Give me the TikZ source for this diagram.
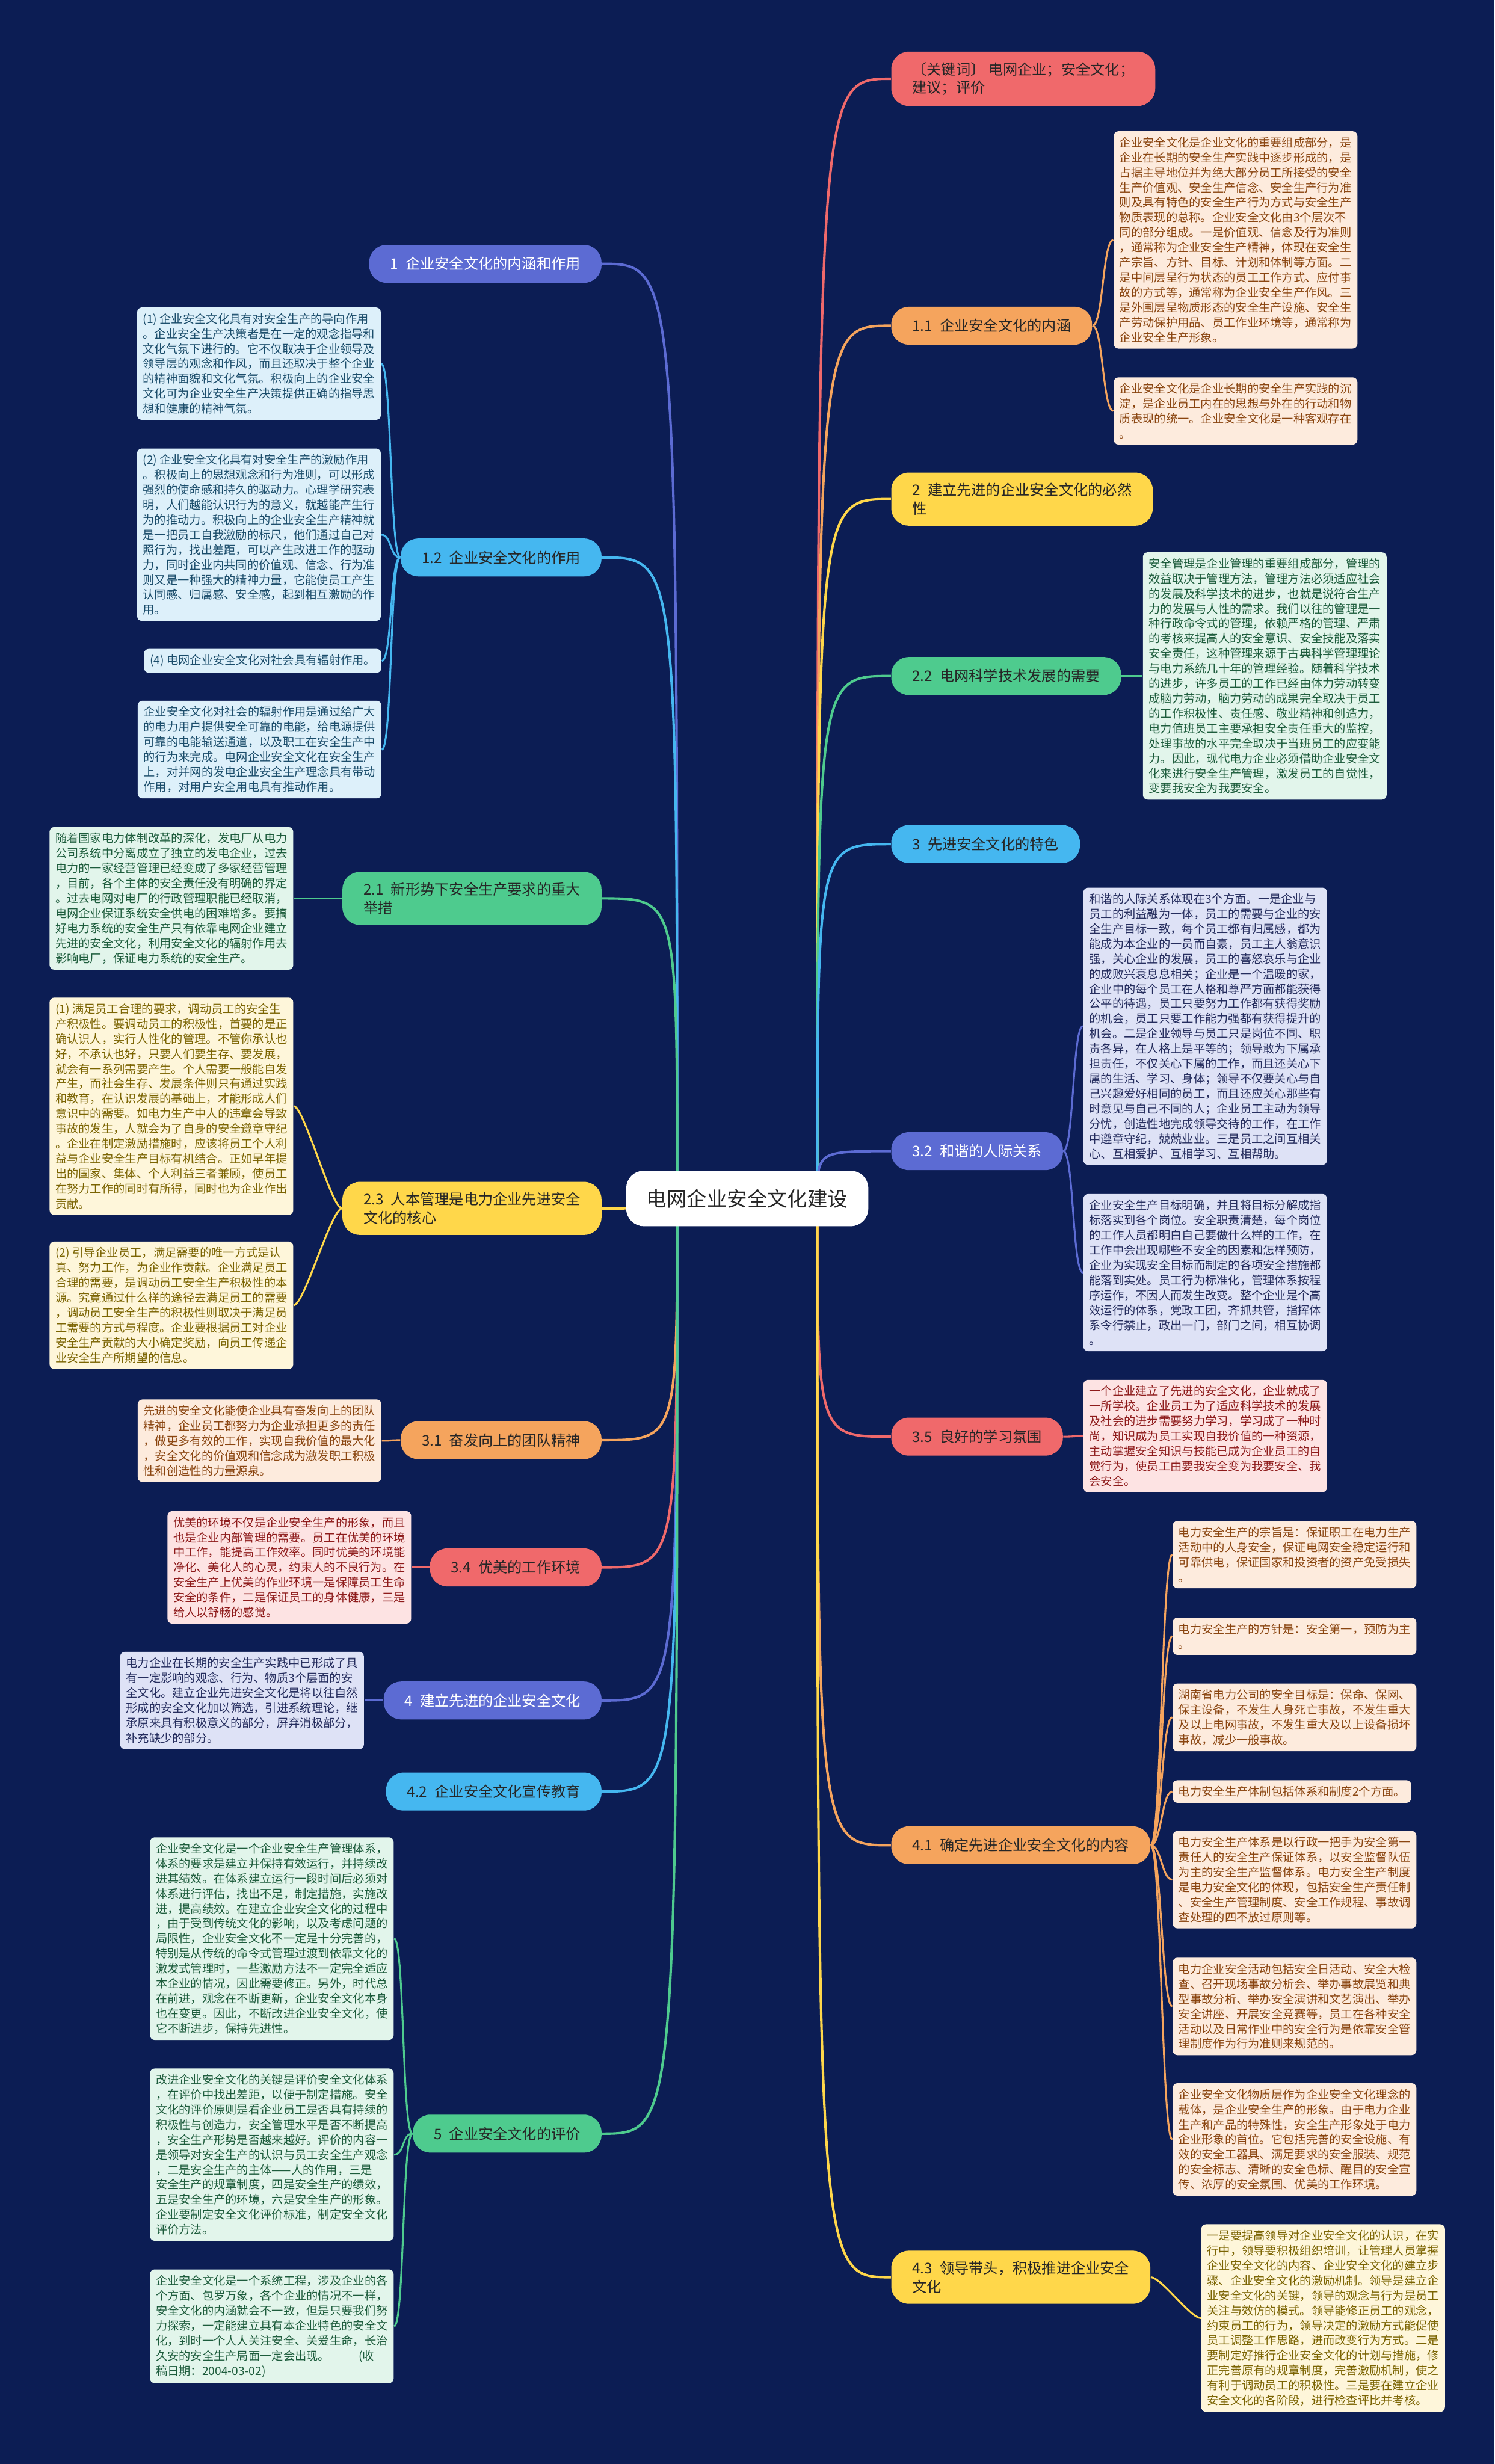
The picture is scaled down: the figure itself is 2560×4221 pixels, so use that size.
\documentclass[tikz,border=0pt]{standalone}
\usepackage{fontspec}
\newfontfamily\cjk{Noto Sans CJK SC}
\newcommand\txtsz{\fontsize{5.65pt}{7.3pt}\selectfont}
\newcommand\brsz{\fontsize{7.1pt}{9pt}\selectfont}
\newcommand\rtsz{\fontsize{9.8pt}{12pt}\selectfont}
\definecolor{bgc}{RGB}{12,29,84}
\definecolor{reM}{RGB}{240,105,107}\definecolor{reL}{RGB}{253,227,227}\definecolor{reT}{RGB}{142,27,27}
\definecolor{orM}{RGB}{245,164,93}\definecolor{orL}{RGB}{253,235,221}\definecolor{orT}{RGB}{138,69,16}
\definecolor{yeM}{RGB}{255,215,74}\definecolor{yeL}{RGB}{254,246,218}\definecolor{yeT}{RGB}{123,100,2}
\definecolor{grM}{RGB}{78,203,142}\definecolor{grL}{RGB}{226,245,235}\definecolor{grT}{RGB}{29,92,60}
\definecolor{skM}{RGB}{69,183,240}\definecolor{skL}{RGB}{221,240,250}\definecolor{skT}{RGB}{27,77,107}
\definecolor{puM}{RGB}{92,107,211}\definecolor{puL}{RGB}{222,226,246}\definecolor{puT}{RGB}{37,45,94}
\pgfdeclarelayer{bg}
\pgfsetlayers{bg,main}

\begin{document}
\begin{tikzpicture}[x=0.01cm,y=-0.01cm,
    bx/.style={font=\cjk\txtsz,align=left,inner xsep=0.1cm,inner ysep=0.1cm,rounded corners=2.3pt},
    br/.style={font=\cjk\brsz,align=left,inner xsep=0.36cm,inner ysep=0.18cm,minimum height=0.65cm,rounded corners=0.3cm,text=black!85},
    rebox/.style={bx,fill=reL,text=reT},orbox/.style={bx,fill=orL,text=orT},
    yebox/.style={bx,fill=yeL,text=yeT},grbox/.style={bx,fill=grL,text=grT},
    skbox/.style={bx,fill=skL,text=skT},pubox/.style={bx,fill=puL,text=puT},
    rebr/.style={br,fill=reM},orbr/.style={br,fill=orM},yebr/.style={br,fill=yeM},
    grbr/.style={br,fill=grM},skbr/.style={br,fill=skM},pubr/.style={br,fill=puM,text=white},
    lk/.style={line width=1.2pt,#1},sub/.style={line width=0.9pt,#1}]
    \useasboundingbox(0,0)rectangle(2560,4221);
    % root
    \node[font=\cjk\rtsz,fill=white,text=black!85,rounded corners=0.3cm,inner xsep=0.35cm,minimum height=0.95cm](root)at(1280,2053){电网企业安全文化建设};
    \coordinate(rs)at(1400,2053);
    \coordinate(ls)at(1160,2053);
    % right side
    \node[rebr,anchor=west](kw)at(1526,135){〔关键词〕 电网企业；安全文化；\\建议；评价};
    \node[orbr,anchor=west](b11)at(1526,558){1.1\enspace 企业安全文化的内涵};
    \node[yebr,anchor=west](b2)at(1526,855){2\enspace 建立先进的企业安全文化的必然\\性};
    \node[grbr,anchor=west](b22)at(1526,1158){2.2\enspace 电网科学技术发展的需要};
    \node[skbr,anchor=west](b3)at(1526,1446){3\enspace 先进安全文化的特色};
    \node[pubr,anchor=west](b32)at(1526,1972){3.2\enspace 和谐的人际关系};
    \node[rebr,anchor=west](b35)at(1526,2461){3.5\enspace 良好的学习氛围};
    \node[orbr,anchor=west](b41)at(1526,3161){4.1\enspace 确定先进企业安全文化的内容};
    \node[yebr,anchor=west](b43)at(1526,3901){4.3\enspace 领导带头，积极推进企业安全\\文化};
    % left side
    \node[pubr,anchor=east](b1)at(1031,452){1\enspace 企业安全文化的内涵和作用};
    \node[skbr,anchor=east](b12)at(1031,955){1.2\enspace 企业安全文化的作用};
    \node[grbr,anchor=east](b21)at(1031,1539){2.1\enspace 新形势下安全生产要求的重大\\举措};
    \node[yebr,anchor=east](b23)at(1031,2070){2.3\enspace 人本管理是电力企业先进安全\\文化的核心};
    \node[orbr,anchor=east](b31)at(1031,2467){3.1\enspace 奋发向上的团队精神};
    \node[rebr,anchor=east](b34)at(1031,2685){3.4\enspace 优美的工作环境};
    \node[pubr,anchor=east](b4)at(1031,2913){4\enspace 建立先进的企业安全文化};
    \node[skbr,anchor=east](b42)at(1031,3069){4.2\enspace 企业安全文化宣传教育};
    \node[grbr,anchor=east](b5)at(1031,3655){5\enspace 企业安全文化的评价};

    % boxes of 1.1
    \node[orbox,anchor=west](a1)at(1907,411){企业安全文化是企业文化的重要组成部分，是\\企业在长期的安全生产实践中逐步形成的，是\\占据主导地位并为绝大部分员工所接受的安全\\生产价值观、安全生产信念、安全生产行为准\\则及具有特色的安全生产行为方式与安全生产\\物质表现的总称。企业安全文化由3个层次不\\同的部分组成。一是价值观、信念及行为准则\\，通常称为企业安全生产精神，体现在安全生\\产宗旨、方针、目标、计划和体制等方面。二\\是中间层呈行为状态的员工工作方式、应付事\\故的方式等，通常称为企业安全生产作风。三\\是外围层呈物质形态的安全生产设施、安全生\\产劳动保护用品、员工作业环境等，通常称为\\企业安全生产形象。};
    \node[orbox,anchor=west](a2)at(1907,704){企业安全文化是企业长期的安全生产实践的沉\\淀，是企业员工内在的思想与外在的行动和物\\质表现的统一。企业安全文化是一种客观存在\\。};
    % box of 2.2
    \node[grbox,anchor=west](bb)at(1957,1158){安全管理是企业管理的重要组成部分，管理的\\效益取决于管理方法，管理方法必须适应社会\\的发展及科学技术的进步，也就是说符合生产\\力的发展与人性的需求。我们以往的管理是一\\种行政命令式的管理，依赖严格的管理、严肃\\的考核来提高人的安全意识、安全技能及落实\\安全责任，这种管理来源于古典科学管理理论\\与电力系统几十年的管理经验。随着科学技术\\的进步，许多员工的工作已经由体力劳动转变\\成脑力劳动，脑力劳动的成果完全取决于员工\\的工作积极性、责任感、敬业精神和创造力，\\电力值班员工主要承担安全责任重大的监控，\\处理事故的水平完全取决于当班员工的应变能\\力。因此，现代电力企业必须借助企业安全文\\化来进行安全生产管理，激发员工的自觉性，\\变要我安全为我要安全。};
    % boxes of 3.2 and 3.5
    \node[pubox,anchor=west](f1)at(1855,1758){和谐的人际关系体现在3个方面。一是企业与\\员工的利益融为一体，员工的需要与企业的安\\全生产目标一致，每个员工都有归属感，都为\\能成为本企业的一员而自豪，员工主人翁意识\\强，关心企业的发展，员工的喜怒哀乐与企业\\的成败兴衰息息相关；企业是一个温暖的家，\\企业中的每个员工在人格和尊严方面都能获得\\公平的待遇，员工只要努力工作都有获得奖励\\的机会，员工只要工作能力强都有获得提升的\\机会。二是企业领导与员工只是岗位不同、职\\责各异，在人格上是平等的；领导敢为下属承\\担责任，不仅关心下属的工作，而且还关心下\\属的生活、学习、身体；领导不仅要关心与自\\己兴趣爱好相同的员工，而且还应关心那些有\\时意见与自己不同的人；企业员工主动为领导\\分忧，创造性地完成领导交待的工作，在工作\\中遵章守纪，兢兢业业。三是员工之间互相关\\心、互相爱护、互相学习、互相帮助。};
    \node[pubox,anchor=west](f2)at(1855,2180){企业安全生产目标明确，并且将目标分解成指\\标落实到各个岗位。安全职责清楚，每个岗位\\的工作人员都明白自己要做什么样的工作，在\\工作中会出现哪些不安全的因素和怎样预防，\\企业为实现安全目标而制定的各项安全措施都\\能落到实处。员工行为标准化，管理体系按程\\序运作，不因人而发生改变。整个企业是个高\\效运行的体系，党政工团，齐抓共管，指挥体\\系令行禁止，政出一门，部门之间，相互协调\\。};
    \node[rebox,anchor=west](g1)at(1855,2460){一个企业建立了先进的安全文化，企业就成了\\一所学校。企业员工为了适应科学技术的发展\\及社会的进步需要努力学习，学习成了一种时\\尚，知识成为员工实现自我价值的一种资源，\\主动掌握安全知识与技能已成为企业员工的自\\觉行为，使员工由要我安全变为我要安全、我\\会安全。};
    % boxes of 4.1
    \node[orbox,anchor=west](i1)at(2008,2663){电力安全生产的宗旨是：保证职工在电力生产\\活动中的人身安全，保证电网安全稳定运行和\\可靠供电，保证国家和投资者的资产免受损失\\。};
    \node[orbox,anchor=west](i2)at(2008,2803){电力安全生产的方针是：安全第一，预防为主\\。};
    \node[orbox,anchor=west](i3)at(2008,2942){湖南省电力公司的安全目标是：保命、保网、\\保主设备，不发生人身死亡事故，不发生重大\\及以上电网事故，不发生重大及以上设备损坏\\事故，减少一般事故。};
    \node[orbox,anchor=west](i4)at(2008,3069){电力安全生产体制包括体系和制度2个方面。};
    \node[orbox,anchor=west](i5)at(2008,3220){电力安全生产体系是以行政一把手为安全第一\\责任人的安全生产保证体系，以安全监督队伍\\为主的安全生产监督体系。电力安全生产制度\\是电力安全文化的体现，包括安全生产责任制\\、安全生产管理制度、安全工作规程、事故调\\查处理的四不放过原则等。};
    \node[orbox,anchor=west](i6)at(2008,3437){电力企业安全活动包括安全日活动、安全大检\\查、召开现场事故分析会、举办事故展览和典\\型事故分析、举办安全演讲和文艺演出、举办\\安全讲座、开展安全竞赛等，员工在各种安全\\活动以及日常作业中的安全行为是依靠安全管\\理制度作为行为准则来规范的。};
    \node[orbox,anchor=west](i7)at(2008,3665){企业安全文化物质层作为企业安全文化理念的\\载体，是企业安全生产的形象。由于电力企业\\生产和产品的特殊性，安全生产形象处于电力\\企业形象的首位。它包括完善的安全设施、有\\效的安全工器具、满足要求的安全服装、规范\\的安全标志、清晰的安全色标、醒目的安全宣\\传、浓厚的安全氛围、优美的工作环境。};
    % box of 4.3
    \node[yebox,anchor=west](l1)at(2057,3971){一是要提高领导对企业安全文化的认识，在实\\行中，领导要积极组织培训，让管理人员掌握\\企业安全文化的内容、企业安全文化的建立步\\骤、企业安全文化的激励机制。领导是建立企\\业安全文化的关键，领导的观念与行为是员工\\关注与效仿的模式。领导能修正员工的观念，\\约束员工的行为，领导决定的激励方式能促使\\员工调整工作思路，进而改变行为方式。二是\\要制定好推行企业安全文化的计划与措施，修\\正完善原有的规章制度，完善激励机制，使之\\有利于调动员工的积极性。三是要在建立企业\\安全文化的各阶段，进行检查评比并考核。};

    % boxes of 1.2
    \node[skbox,anchor=east](c1)at(653,623){(1) 企业安全文化具有对安全生产的导向作用\\。企业安全生产决策者是在一定的观念指导和\\文化气氛下进行的。它不仅取决于企业领导及\\领导层的观念和作风，而且还取决于整个企业\\的精神面貌和文化气氛。积极向上的企业安全\\文化可为企业安全生产决策提供正确的指导思\\想和健康的精神气氛。};
    \node[skbox,anchor=east](c2)at(653,916){(2) 企业安全文化具有对安全生产的激励作用\\。积极向上的思想观念和行为准则，可以形成\\强烈的使命感和持久的驱动力。心理学研究表\\明，人们越能认识行为的意义，就越能产生行\\为的推动力。积极向上的企业安全生产精神就\\是一把员工自我激励的标尺，他们通过自己对\\照行为，找出差距，可以产生改进工作的驱动\\力，同时企业内共同的价值观、信念、行为准\\则又是一种强大的精神力量，它能使员工产生\\认同感、归属感、安全感，起到相互激励的作\\用。};
    \node[skbox,anchor=east](c3)at(654,1132){(4) 电网企业安全文化对社会具有辐射作用。};
    \node[skbox,anchor=east](c4)at(654,1284){企业安全文化对社会的辐射作用是通过给广大\\的电力用户提供安全可靠的电能，给电源提供\\可靠的电能输送通道，以及职工在安全生产中\\的行为来完成。电网企业安全文化在安全生产\\上，对并网的发电企业安全生产理念具有带动\\作用，对用户安全用电具有推动作用。};
    % box of 2.1
    \node[grbox,anchor=east](e0)at(503,1539){随着国家电力体制改革的深化，发电厂从电力\\公司系统中分离成立了独立的发电企业，过去\\电力的一家经营管理已经变成了多家经营管理\\，目前，各个主体的安全责任没有明确的界定\\。过去电网对电厂的行政管理职能已经取消，\\电网企业保证系统安全供电的困难增多。要搞\\好电力系统的安全生产只有依靠电网企业建立\\先进的安全文化，利用安全文化的辐射作用去\\影响电厂，保证电力系统的安全生产。};
    % boxes of 2.3
    \node[yebox,anchor=east](e1)at(503,1895){(1) 满足员工合理的要求，调动员工的安全生\\产积极性。要调动员工的积极性，首要的是正\\确认识人，实行人性化的管理。不管你承认也\\好，不承认也好，只要人们要生存、要发展，\\就会有一系列需要产生。个人需要一般能自发\\产生，而社会生存、发展条件则只有通过实践\\和教育，在认识发展的基础上，才能形成人们\\意识中的需要。如电力生产中人的违章会导致\\事故的发生，人就会为了自身的安全遵章守纪\\。企业在制定激励措施时，应该将员工个人利\\益与企业安全生产目标有机结合。正如早年提\\出的国家、集体、个人利益三者兼顾，使员工\\在努力工作的同时有所得，同时也为企业作出\\贡献。};
    \node[yebox,anchor=east](e2)at(503,2236){(2) 引导企业员工，满足需要的唯一方式是认\\真、努力工作，为企业作贡献。企业满足员工\\合理的需要，是调动员工安全生产积极性的本\\源。究竟通过什么样的途径去满足员工的需要\\，调动员工安全生产的积极性则取决于满足员\\工需要的方式与程度。企业要根据员工对企业\\安全生产贡献的大小确定奖励，向员工传递企\\业安全生产所期望的信息。};
    % boxes of 3.1, 3.4, 4
    \node[orbox,anchor=east](h1)at(654,2468){先进的安全文化能使企业具有奋发向上的团队\\精神，企业员工都努力为企业承担更多的责任\\，做更多有效的工作，实现自我价值的最大化\\，安全文化的价值观和信念成为激发职工积极\\性和创造性的力量源泉。};
    \node[rebox,anchor=east](h2)at(705,2685){优美的环境不仅是企业安全生产的形象，而且\\也是企业内部管理的需要。员工在优美的环境\\中工作，能提高工作效率。同时优美的环境能\\净化、美化人的心灵，约束人的不良行为。在\\安全生产上优美的作业环境一是保障员工生命\\安全的条件，二是保证员工的身体健康，三是\\给人以舒畅的感觉。};
    \node[pubox,anchor=east](h3)at(624,2913){电力企业在长期的安全生产实践中已形成了具\\有一定影响的观念、行为、物质3个层面的安\\全文化。建立企业先进安全文化是将以往自然\\形成的安全文化加以筛选，引进系统理论，继\\承原来具有积极意义的部分，屏弃消极部分，\\补充缺少的部分。};
    % boxes of 5
    \node[grbox,anchor=east](k1)at(675,3321){企业安全文化是一个企业安全生产管理体系，\\体系的要求是建立并保持有效运行，并持续改\\进其绩效。在体系建立运行一段时间后必须对\\体系进行评估，找出不足，制定措施，实施改\\进，提高绩效。在建立企业安全文化的过程中\\，由于受到传统文化的影响，以及考虑问题的\\局限性，企业安全文化不一定是十分完善的，\\特别是从传统的命令式管理过渡到依靠文化的\\激发式管理时，一些激励方法不一定完全适应\\本企业的情况，因此需要修正。另外，时代总\\在前进，观念在不断更新，企业安全文化本身\\也在变更。因此，不断改进企业安全文化，使\\它不断进步，保持先进性。};
    \node[grbox,anchor=east](k2)at(675,3691){改进企业安全文化的关键是评价安全文化体系\\，在评价中找出差距，以便于制定措施。安全\\文化的评价原则是看企业员工是否具有持续的\\积极性与创造力，安全管理水平是否不断提高\\，安全生产形势是否越来越好。评价的内容一\\是领导对安全生产的认识与员工安全生产观念\\，二是安全生产的主体——人的作用，三是\\安全生产的规章制度，四是安全生产的绩效，\\五是安全生产的环境，六是安全生产的形象。\\企业要制定安全文化评价标准，制定安全文化\\评价方法。};
    \node[grbox,anchor=east](k3)at(675,3985){企业安全文化是一个系统工程，涉及企业的各\\个方面、包罗万象，各个企业的情况不一样，\\安全文化的内涵就会不一致，但是只要我们努\\力探索，一定能建立具有本企业特色的安全文\\化，到时一个人人关注安全、关爱生命，长治\\久安的安全生产局面一定会出现。\hspace{2.5em}(收\\稿日期：2004-03-02)};

    \begin{pgfonlayer}{bg}
        \fill[bgc](0,0)rectangle(2560,4221);
        % from root
        \draw[lk=reM](rs)..controls(rs|-kw.west)..(kw.west);
        \draw[lk=orM](rs)..controls(rs|-b11.west)..(b11.west);
        \draw[lk=yeM](rs)..controls(rs|-b2.west)..(b2.west);
        \draw[lk=grM](rs)..controls(rs|-b22.west)..(b22.west);
        \draw[lk=skM](rs)..controls(rs|-b3.west)..(b3.west);
        \draw[lk=puM](rs)..controls(rs|-b32.west)..(b32.west);
        \draw[lk=reM](rs)..controls(rs|-b35.west)..(b35.west);
        \draw[lk=orM](rs)..controls(rs|-b41.west)..(b41.west);
        \draw[lk=yeM](rs)..controls(rs|-b43.west)..(b43.west);
        \draw[lk=puM](ls)..controls(ls|-b1.east)..(b1.east);
        \draw[lk=skM](ls)..controls(ls|-b12.east)..(b12.east);
        \draw[lk=grM](ls)..controls(ls|-b21.east)..(b21.east);
        \draw[lk=yeM](ls)..controls(ls|-b23.east)..(b23.east);
        \draw[lk=orM](ls)..controls(ls|-b31.east)..(b31.east);
        \draw[lk=reM](ls)..controls(ls|-b34.east)..(b34.east);
        \draw[lk=puM](ls)..controls(ls|-b4.east)..(b4.east);
        \draw[lk=skM](ls)..controls(ls|-b42.east)..(b42.east);
        \draw[lk=grM](ls)..controls(ls|-b5.east)..(b5.east);
        % to the boxes
        \foreach \p/\c/\k in {b11/a1/orM,b11/a2/orM,b22/bb/grM,b32/f1/puM,b32/f2/puM,b35/g1/reM,
            b41/i1/orM,b41/i2/orM,b41/i3/orM,b41/i4/orM,b41/i5/orM,b41/i6/orM,b41/i7/orM,b43/l1/yeM}
            \draw[sub=\k](\p.east)..controls+(18,0)and+(-18,0)..(\c.west);
        \foreach \p/\c/\k in {b12/c1/skM,b12/c2/skM,b12/c3/skM,b12/c4/skM,b21/e0/grM,b23/e1/yeM,b23/e2/yeM,
            b31/h1/orM,b34/h2/reM,b4/h3/puM,b5/k1/grM,b5/k2/grM,b5/k3/grM}
            \draw[sub=\k](\p.west)..controls+(-18,0)and+(18,0)..(\c.east);
    \end{pgfonlayer}
\end{tikzpicture}
\end{document}
